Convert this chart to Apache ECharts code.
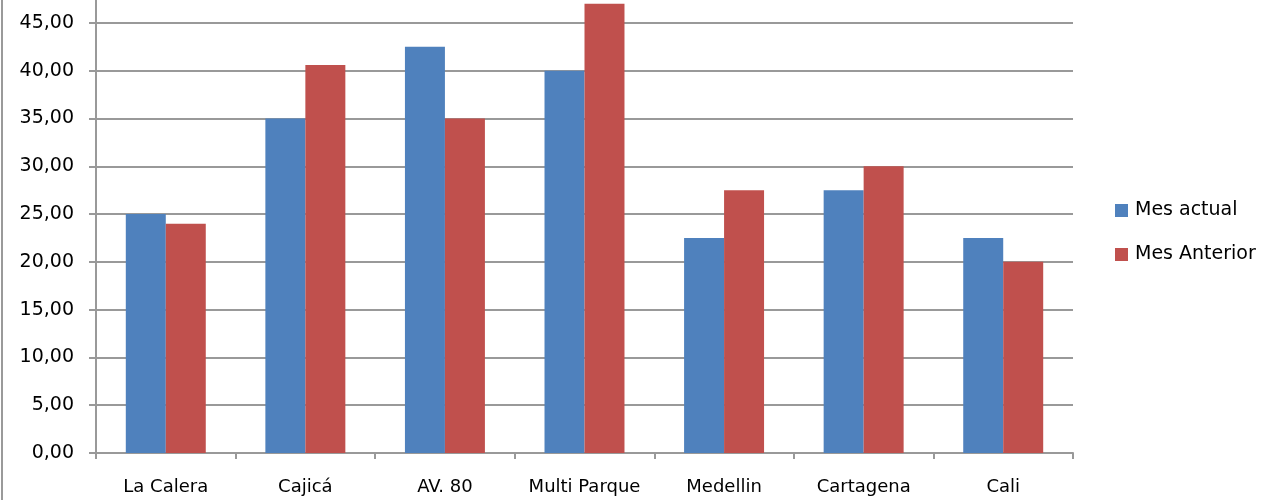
<!DOCTYPE html>
<html>
<head>
<meta charset="utf-8">
<script src="https://cdn.jsdelivr.net/npm/echarts@6/dist/echarts.min.js"></script>
<style>html,body{margin:0;padding:0;background:#fff}#c{width:1272px;height:500px}</style>
</head>
<body>
<div id="c"></div>
<script>
var categories = ['La Calera', 'Cajicá', 'AV. 80', 'Multi Parque', 'Medellin', 'Cartagena', 'Cali'];
var mesActual = [25.0, 35.0, 42.5, 40.0, 22.5, 27.5, 22.5];
var mesAnterior = [24.0, 40.6, 35.0, 47.0, 27.5, 30.0, 20.0];
var seriesNames = ['Mes actual', 'Mes Anterior'];

var chart = echarts.init(document.getElementById('c'), null, {renderer: 'canvas'});
var font = 'DejaVu Sans';
chart.setOption({
  animation: false,
  backgroundColor: '#fff',
  grid: {left: 96, right: 199, top: 0, bottom: 47, containLabel: false},
  legend: {
    orient: 'vertical', left: 1115, top: 201, padding: 0,
    itemWidth: 13, itemHeight: 13, itemGap: 25,
    icon: 'rect',
    textStyle: {fontFamily: font, fontSize: 19, color: '#000', padding: [0, 0, 0, 2]},
    data: seriesNames
  },
  xAxis: {
    type: 'category', data: categories,
    axisLine: {lineStyle: {color: '#999999', width: 2}},
    axisTick: {show: true, interval: 0, alignWithLabel: false, length: 6, lineStyle: {color: '#999999', width: 2}},
    axisLabel: {interval: 0, fontFamily: font, fontSize: 18, color: '#000', margin: 25}
  },
  yAxis: {
    type: 'value', min: 0, max: 47.4, interval: 5,
    axisLine: {show: true, lineStyle: {color: '#999999', width: 2}},
    axisTick: {show: true, length: 7, lineStyle: {color: '#999999', width: 2}},
    splitLine: {showMaxLine: false, lineStyle: {color: '#999999', width: 2}},
    axisLabel: {fontFamily: font, fontSize: 19, color: '#000', margin: 22, showMaxLabel: false,
      formatter: function (v) { return (v % 5 === 0) ? v.toFixed(2).replace('.', ',') : ''; }}
  },
  series: [
    {name: seriesNames[0], type: 'bar', data: mesActual, barGap: '0%', barCategoryGap: '42.7%', itemStyle: {color: '#4F81BD'}},
    {name: seriesNames[1], type: 'bar', data: mesAnterior, barGap: '0%', barCategoryGap: '42.7%', itemStyle: {color: '#C0504D'}}
  ],
  graphic: [{type: 'line', shape: {x1: 2, y1: 0, x2: 2, y2: 500}, style: {stroke: '#9a9a9a', lineWidth: 2}}]
});
</script>
</body>
</html>
